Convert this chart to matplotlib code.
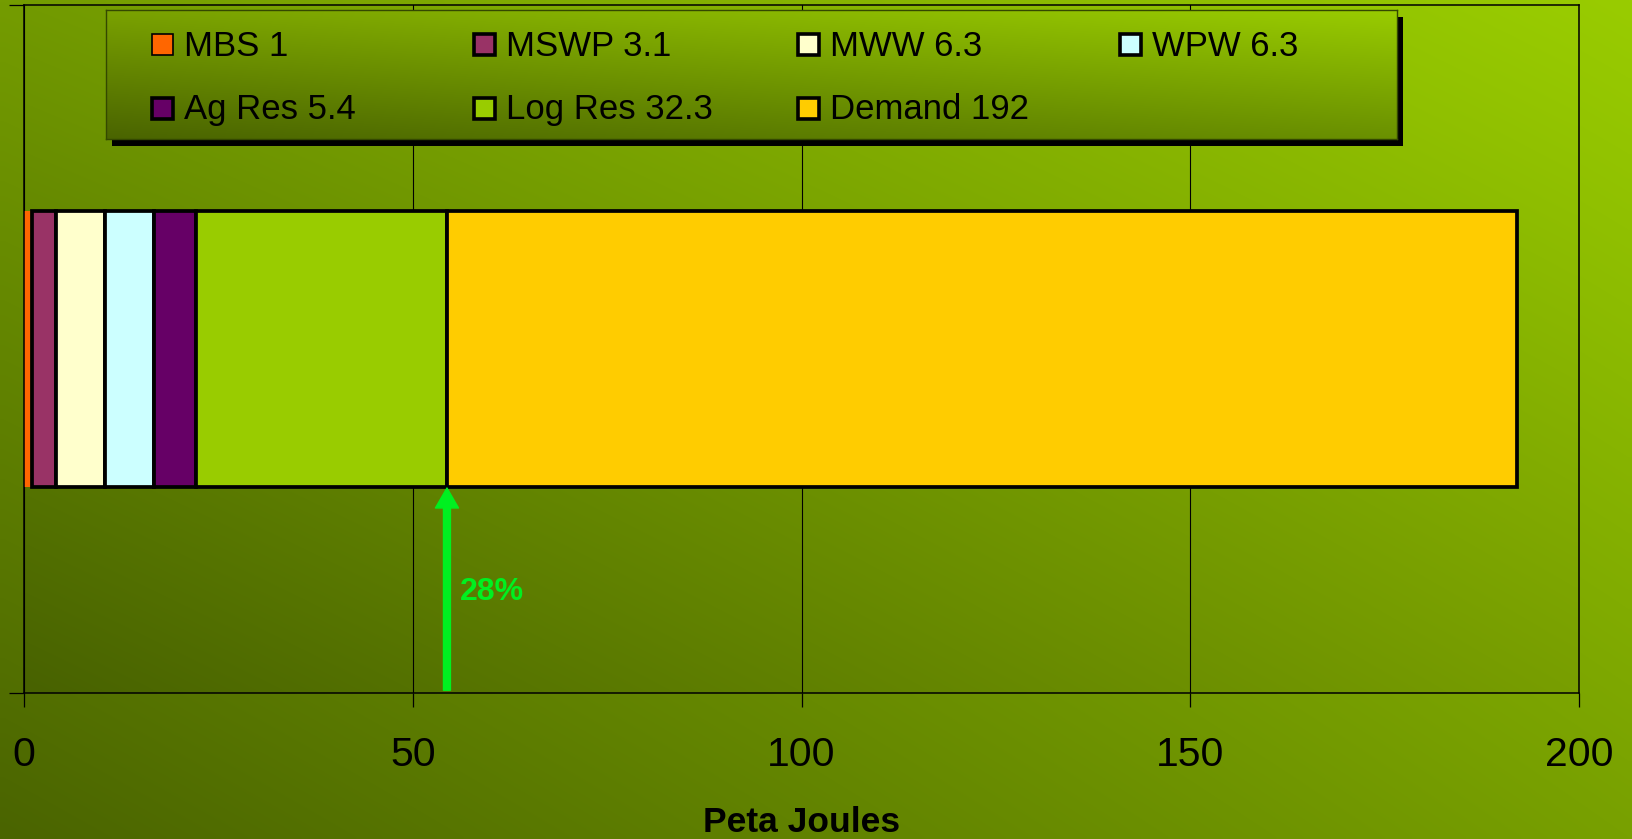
import matplotlib
matplotlib.use('Agg')
import matplotlib.pyplot as plt
import numpy as np
from matplotlib.patches import Rectangle, FancyArrowPatch, ArrowStyle
from matplotlib.colors import to_rgb

# ---------------- data ----------------
labels = ['MBS 1', 'MSWP 3.1', 'MWW 6.3', 'WPW 6.3', 'Ag Res 5.4', 'Log Res 32.3', 'Demand 192']
values = [1.0, 3.1, 6.3, 6.3, 5.4, 32.3, 137.6]
colors = ['#ff6600', '#993366', '#ffffcc', '#ccffff', '#660066', '#99cc00', '#ffcc00']
xticks = [0, 50, 100, 150, 200]
xlabel = 'Peta Joules'
share_label = '28%'
supply_segments = 6  # the first six segments are supply; arrow marks their end

# ---------------- figure ----------------
W, H = 1633, 839
plt.rcParams['font.family'] = ['Liberation Sans', 'DejaVu Sans']
fig = plt.figure(figsize=(W / 100, H / 100), dpi=100)


def gradient(tl, tr, bl, br, n=200):
    tl, tr, bl, br = (np.array(to_rgb(c)) for c in (tl, tr, bl, br))
    u = np.linspace(0, 1, n)[None, :, None]
    v = np.linspace(0, 1, n)[:, None, None]
    top = tl * (1 - u) + tr * u
    bot = bl * (1 - u) + br * u
    return top * (1 - v) + bot * v


# chart-area background
bg = fig.add_axes([0, 0, 1, 1], zorder=-10)
bg.imshow(gradient('#749c00', '#99cc00', '#4a6400', '#78a000'), aspect='auto',
          extent=[0, 1, 0, 1], interpolation='bilinear')
bg.axis('off')

# plot area in pixels
px_l, px_r, px_t, px_b = 24, 1579, 5, 693
ax = fig.add_axes([px_l / W, (H - px_b) / H, (px_r - px_l) / W, (px_b - px_t) / H])
ax.patch.set_visible(False)
ax.imshow(gradient('#729a00', '#99cc00', '#486200', '#789e00'), aspect='auto',
          extent=[0, 1, 0, 1], transform=ax.transAxes, zorder=0.1, interpolation='bilinear')

left = 0.0
for i, (v, c) in enumerate(zip(values, colors)):
    lw = 0 if i == 0 else 2.7
    ax.barh(0.5, v, left=left, height=0.4, color=c, edgecolor='black',
            linewidth=lw, zorder=2)
    left += v

arrow_x = sum(values[:supply_segments])
arr = FancyArrowPatch((arrow_x, 0.004), (arrow_x, 0.298),
                      arrowstyle=ArrowStyle.Simple(head_length=1.44, head_width=1.66, tail_width=0.5),
                      mutation_scale=10, color='#00f020', shrinkA=0, shrinkB=0, zorder=3)
ax.add_patch(arr)
ax.text(arrow_x + 1.7, 0.135, share_label, color='#00f020', fontsize=23,
        fontweight='bold', ha='left', va='baseline', zorder=4)

ax.set_xlim(0, 200)
ax.set_ylim(0, 1)
ax.set_xticks(xticks)
ax.set_xticklabels([str(t) for t in xticks])
ax.set_yticks([0, 1])
ax.set_yticklabels(['', ''])
ax.xaxis.grid(True, color='black', linewidth=0.8, zorder=0.5)
ax.set_axisbelow(True)
ax.tick_params(axis='x', length=10, width=0.9, direction='out', labelsize=29.5, pad=21,
               colors='black')
ax.tick_params(axis='y', length=11, width=0.9, direction='out')
for s in ax.spines.values():
    s.set_linewidth(1.1)
    s.set_color('black')
ax.set_xlabel(xlabel, fontsize=25.5, fontweight='bold')
ax.xaxis.set_label_coords(0.5, (px_b - 806) / (px_b - px_t))
ax.xaxis.label.set_va('top')

# ---------------- legend ----------------
lg_l, lg_r, lg_t, lg_b = 106, 1397, 10, 139
shadow = Rectangle(((lg_l + 6) / W, (H - lg_b - 7) / H), (lg_r - lg_l) / W, (lg_b - lg_t) / H,
                   transform=fig.transFigure, facecolor='black', edgecolor='none', zorder=4)
fig.patches.append(shadow)
lax = fig.add_axes([lg_l / W, (H - lg_b) / H, (lg_r - lg_l) / W, (lg_b - lg_t) / H], zorder=5)
lax.imshow(gradient('#7aa200', '#99cc00', '#4a6400', '#6a9000'), aspect='auto',
           extent=[0, 1, 0, 1], interpolation='bilinear')
lax.set_xlim(0, 1)
lax.set_ylim(0, 1)
lax.set_xticks([])
lax.set_yticks([])
for s in lax.spines.values():
    s.set_color('#344800')
    s.set_linewidth(1.0)


def lx(p):
    return (p - lg_l) / (lg_r - lg_l)


def ly(p):
    return (lg_b - p) / (lg_b - lg_t)


col_px = [152, 474, 798, 1120]
row_base = [55.5, 119]
for i, (lab, c) in enumerate(zip(labels, colors)):
    col, row = i % 4, i // 4
    mx = col_px[col]
    by = row_base[row]
    lw = 1.2 if i == 0 else 2.6
    lax.add_patch(Rectangle((lx(mx), ly(by - 0.5)), 21 / (lg_r - lg_l), 21 / (lg_b - lg_t),
                            transform=lax.transAxes, facecolor=c, edgecolor='black',
                            linewidth=lw, zorder=3))
    lax.text(lx(mx + 32), ly(by), lab, fontsize=25, ha='left', va='baseline',
             transform=lax.transAxes, color='black', zorder=3)

fig.savefig('out.png', dpi=100)
